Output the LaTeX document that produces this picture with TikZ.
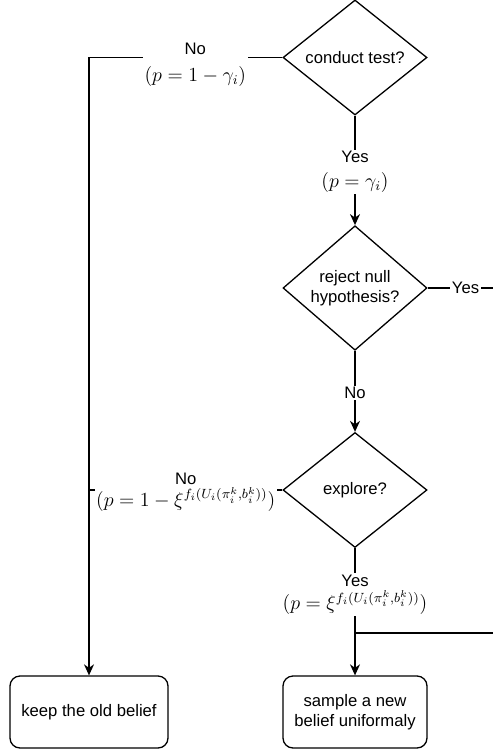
\documentclass[tikz,border=0pt]{standalone}
\usepackage{fontspec}
\setmainfont{Liberation Sans}
\usetikzlibrary{shapes.geometric,arrows.meta}
\newcommand\mthsz{\fontsize{12}{14}\selectfont}
\begin{document}
\begin{tikzpicture}[x=0.6pt,y=-0.6pt,line width=0.78pt,
  txt/.style={font=\fontsize{10}{12}\selectfont},
  dec/.style={diamond,draw,txt,minimum width=86.4pt,minimum height=69pt,inner sep=0pt,align=center},
  box/.style={rectangle,draw,txt,rounded corners=6pt,minimum height=43.2pt,inner sep=1pt,align=center},
  lbl/.style={fill=white,txt,align=center,inner sep=1pt},
  arr/.style={-{Stealth[length=6.6pt,width=6pt,inset=2.1pt]}}]
\useasboundingbox (0,0) rectangle (493,750);
\node[dec] (test) at (355,57.5) {conduct test?};
\node[dec] (reject) at (355,288) {reject null\\hypothesis?};
\node[dec] (explore) at (355,490) {explore?};
\node[box,minimum width=94.8pt] (keep) at (89,712) {keep the old belief};
\node[box,minimum width=86.4pt] (sample) at (355,712) {sample a new\\belief uniformaly};
\coordinate (tl) at (89,57.5);
\coordinate (el) at (89,490);
\coordinate (er) at (493,288);
\coordinate (br) at (355,633);
\coordinate (brr) at (493,633);
\draw (test.west) -- node[lbl,pos=0.45,yshift=-4.4pt]{No\\[4pt]{\mthsz$(p=1-\gamma_i)$}} (tl);
\draw[arr] (tl) -- (keep.north);
\draw[arr] (test.south) -- node[lbl,pos=0.47,yshift=-3pt]{Yes\\[3pt]{\mthsz$(p=\gamma_i)$}} (reject.north);
\draw (reject.east) -- node[lbl,pos=0.58]{Yes} (er);
\draw[arr] (reject.south) -- node[lbl,pos=0.52]{No} (explore.north);
\draw (explore.west) -- node[lbl,pos=0.5,yshift=-1.2pt]{No\\[1pt]{\mthsz$(p=1-\xi^{f_i(U_i(\pi_i^k,b_i^k))})$}} (el);
\draw[arr] (explore.south) -- node[lbl,pos=0.35,yshift=-1.2pt]{Yes\\[2pt]{\mthsz$(p=\xi^{f_i(U_i(\pi_i^k,b_i^k))})$}} (sample.north);
\draw (br) -- (brr);
\end{tikzpicture}
\end{document}
